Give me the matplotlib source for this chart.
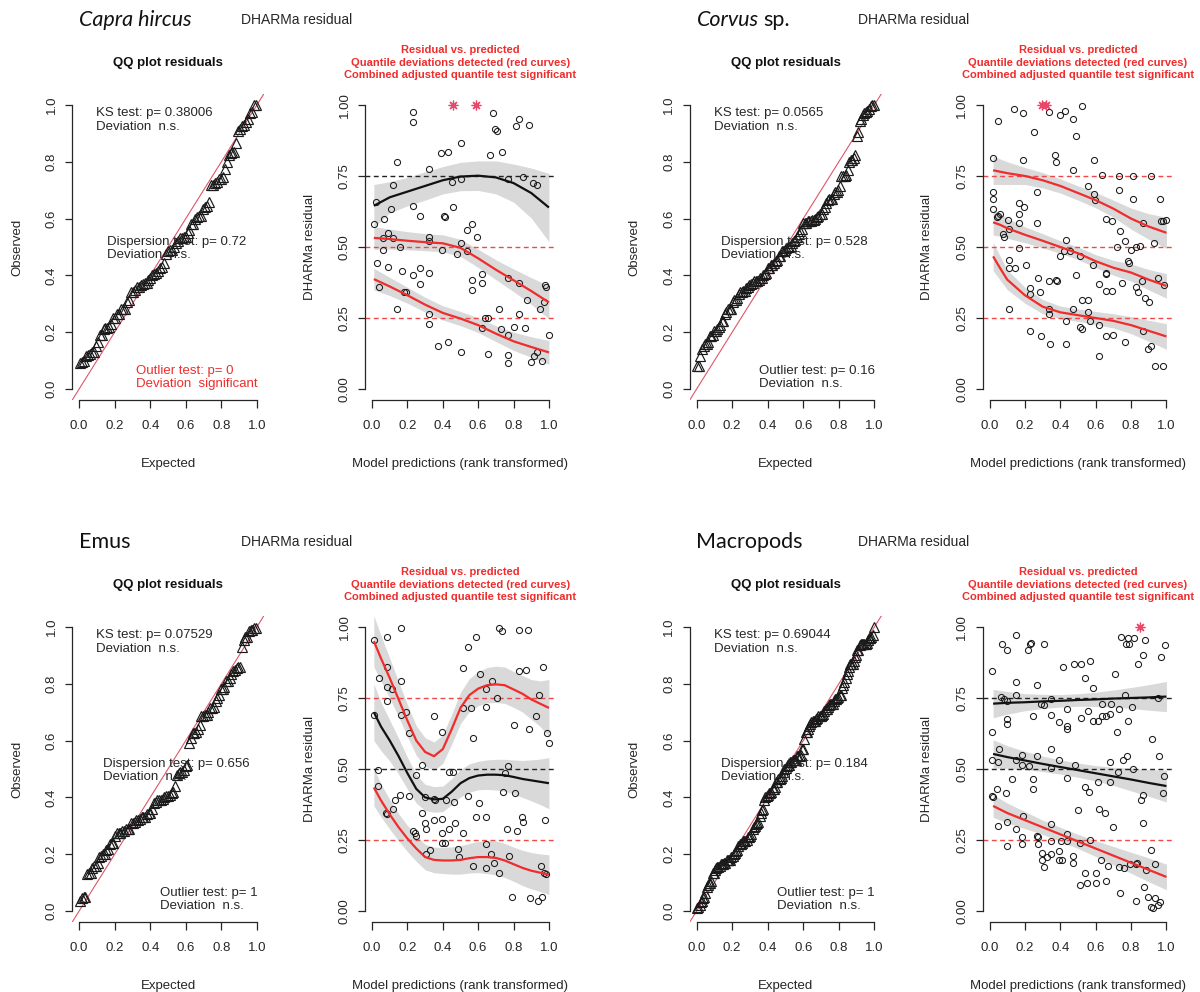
import numpy as np
import matplotlib
matplotlib.use("Agg")
import matplotlib.pyplot as plt

plt.rcParams['font.family'] = ['Liberation Sans', 'DejaVu Sans']

W, H = 1200, 992
fig = plt.figure(figsize=(W / 100, H / 100), dpi=100)
fig.patch.set_facecolor('white')

INK = '#262626'
RED = '#F02C2C'
STAR = '#E8486A'
BAND = '#D9D9D9'

# ---------------------------------------------------------------- data
species = ["Capra hircus", "Corvus sp.", "Emus", "Macropods"]
ks_p = ["0.38006", "0.0565", "0.07529", "0.69044"]
disp_p = ["0.72", "0.528", "0.656", "0.184"]
outlier_p = ["0", "0.16", "1", "1"]
outlier_sig = [True, False, False, False]
quantiles = [0.25, 0.5, 0.75]
# significance of each quantile curve (0.25, 0.5, 0.75)
quant_sig = [[True, True, False],
             [True, True, True],
             [True, False, True],
             [True, False, False]]

# (rank-transformed prediction, scaled residual)
capra_points = [
    (0.01, 0.58), (0.02, 0.66), (0.03, 0.445), (0.04, 0.36), (0.06, 0.53), (0.06, 0.49),
    (0.07, 0.60), (0.09, 0.55), (0.09, 0.43), (0.105, 0.635), (0.12, 0.72), (0.12, 0.53),
    (0.14, 0.80), (0.14, 0.28), (0.16, 0.50), (0.17, 0.415), (0.18, 0.34), (0.19, 0.34),
    (0.23, 0.975), (0.23, 0.94), (0.23, 0.645), (0.23, 0.40), (0.27, 0.61), (0.27, 0.425),
    (0.27, 0.37), (0.32, 0.775), (0.32, 0.535), (0.32, 0.52), (0.32, 0.41), (0.32, 0.265),
    (0.32, 0.23), (0.37, 0.15), (0.39, 0.83), (0.395, 0.49), (0.405, 0.61), (0.41, 0.605),
    (0.43, 0.835), (0.43, 0.165), (0.45, 0.73), (0.46, 0.64), (0.48, 0.475), (0.505, 0.865),
    (0.505, 0.74), (0.505, 0.515), (0.505, 0.13), (0.535, 0.485), (0.535, 0.56), (0.565, 0.58),
    (0.565, 0.385), (0.565, 0.35), (0.595, 0.535), (0.62, 0.405), (0.62, 0.375), (0.62, 0.215),
    (0.64, 0.25), (0.655, 0.25), (0.655, 0.125), (0.665, 0.825), (0.685, 0.97), (0.695, 0.915),
    (0.705, 0.91), (0.72, 0.28), (0.73, 0.21), (0.735, 0.835), (0.77, 0.74), (0.77, 0.39),
    (0.77, 0.19), (0.77, 0.12), (0.77, 0.09), (0.80, 0.22), (0.815, 0.925), (0.83, 0.95),
    (0.83, 0.375), (0.83, 0.265), (0.855, 0.745), (0.865, 0.215), (0.875, 0.315), (0.89, 0.93),
    (0.90, 0.095), (0.91, 0.725), (0.915, 0.115), (0.93, 0.72), (0.935, 0.13), (0.95, 0.28),
    (0.96, 0.10), (0.97, 0.305), (0.98, 0.365), (0.985, 0.36), (1.0, 0.19),
    (0.46, 1.0), (0.59, 1.0),
]

corvus_points = [
    (0.02, 0.815), (0.02, 0.695), (0.02, 0.67), (0.02, 0.635), (0.045, 0.945), (0.04, 0.605),
    (0.05, 0.61), (0.06, 0.615), (0.075, 0.545), (0.08, 0.535), (0.105, 0.595), (0.11, 0.565),
    (0.11, 0.455), (0.11, 0.425), (0.11, 0.28), (0.14, 0.985), (0.145, 0.425), (0.165, 0.655),
    (0.165, 0.615), (0.165, 0.585), (0.165, 0.495), (0.19, 0.97), (0.19, 0.805), (0.195, 0.64),
    (0.205, 0.435), (0.23, 0.355), (0.23, 0.335), (0.23, 0.205), (0.25, 0.905), (0.27, 0.695),
    (0.27, 0.585), (0.275, 0.39), (0.285, 0.34), (0.29, 0.185), (0.335, 0.975), (0.335, 0.38),
    (0.335, 0.28), (0.335, 0.265), (0.34, 0.16), (0.37, 0.825), (0.375, 0.80), (0.375, 0.385),
    (0.38, 0.38), (0.40, 0.965), (0.40, 0.47), (0.42, 0.485), (0.425, 0.98), (0.43, 0.525),
    (0.43, 0.24), (0.43, 0.16), (0.455, 0.485), (0.47, 0.95), (0.47, 0.77), (0.47, 0.28),
    (0.49, 0.89), (0.49, 0.40), (0.51, 0.47), (0.51, 0.22), (0.525, 0.995), (0.525, 0.315),
    (0.525, 0.21), (0.555, 0.715), (0.555, 0.315), (0.555, 0.27), (0.57, 0.24), (0.585, 0.435),
    (0.59, 0.805), (0.59, 0.685), (0.595, 0.665), (0.62, 0.37), (0.62, 0.225), (0.62, 0.115),
    (0.635, 0.755), (0.66, 0.60), (0.66, 0.41), (0.66, 0.405), (0.66, 0.345), (0.66, 0.185),
    (0.69, 0.59), (0.695, 0.345), (0.70, 0.19), (0.72, 0.50), (0.73, 0.75), (0.73, 0.70),
    (0.74, 0.555), (0.75, 0.375), (0.765, 0.52), (0.765, 0.165), (0.785, 0.45), (0.79, 0.445),
    (0.80, 0.49), (0.81, 0.75), (0.81, 0.67), (0.83, 0.50), (0.83, 0.36), (0.84, 0.34),
    (0.85, 0.505), (0.86, 0.38), (0.87, 0.585), (0.87, 0.205), (0.88, 0.32), (0.90, 0.305),
    (0.895, 0.14), (0.91, 0.75), (0.915, 0.15), (0.93, 0.515), (0.935, 0.08), (0.95, 0.39),
    (0.965, 0.67), (0.97, 0.59), (0.98, 0.59), (0.98, 0.08), (0.985, 0.365), (0.995, 0.595),
    (0.295, 1.0), (0.32, 1.0),
]

emus_points = [
    (0.01, 0.955), (0.01, 0.69), (0.035, 0.495), (0.035, 0.44), (0.04, 0.82), (0.085, 0.965),
    (0.085, 0.86), (0.085, 0.79), (0.085, 0.74), (0.08, 0.345), (0.085, 0.34), (0.115, 0.78),
    (0.12, 0.36), (0.13, 0.39), (0.16, 0.41), (0.165, 0.995), (0.165, 0.81), (0.165, 0.69),
    (0.19, 0.70), (0.21, 0.625), (0.21, 0.405), (0.25, 0.48), (0.23, 0.28), (0.245, 0.275),
    (0.25, 0.265), (0.28, 0.345), (0.285, 0.515), (0.30, 0.31), (0.30, 0.40), (0.305, 0.29),
    (0.305, 0.20), (0.33, 0.215), (0.35, 0.685), (0.35, 0.395), (0.35, 0.32), (0.355, 0.39),
    (0.395, 0.63), (0.395, 0.325), (0.395, 0.275), (0.395, 0.24), (0.415, 0.24), (0.42, 0.39),
    (0.435, 0.49), (0.435, 0.29), (0.46, 0.49), (0.465, 0.385), (0.47, 0.31), (0.485, 0.22),
    (0.49, 0.19), (0.515, 0.855), (0.515, 0.715), (0.515, 0.275), (0.545, 0.93), (0.545, 0.405),
    (0.56, 0.715), (0.57, 0.61), (0.57, 0.16), (0.59, 0.965), (0.59, 0.33), (0.605, 0.38),
    (0.61, 0.835), (0.645, 0.72), (0.645, 0.78), (0.645, 0.33), (0.645, 0.235), (0.645, 0.15),
    (0.67, 0.20), (0.68, 0.81), (0.69, 0.17), (0.705, 0.75), (0.715, 0.135), (0.72, 0.995),
    (0.735, 0.985), (0.74, 0.42), (0.75, 0.485), (0.765, 0.29), (0.775, 0.195), (0.77, 0.51),
    (0.80, 0.655), (0.81, 0.415), (0.82, 0.28), (0.83, 0.99), (0.83, 0.845), (0.845, 0.33),
    (0.855, 0.315), (0.87, 0.85), (0.88, 0.99), (0.885, 0.64), (0.925, 0.685), (0.945, 0.76),
    (0.955, 0.16), (0.97, 0.135), (0.965, 0.86), (0.975, 0.32), (0.99, 0.625), (1.0, 0.59),
    (0.985, 0.13), (0.79, 0.05), (0.895, 0.045), (0.94, 0.035), (0.96, 0.05),
]

macro_points = [
    (0.015, 0.845), (0.015, 0.63), (0.015, 0.53), (0.015, 0.405), (0.02, 0.40), (0.04, 0.43),
    (0.045, 0.525), (0.055, 0.57), (0.05, 0.30), (0.07, 0.94), (0.065, 0.755), (0.08, 0.745),
    (0.10, 0.92), (0.10, 0.74), (0.10, 0.675), (0.10, 0.66), (0.095, 0.415), (0.10, 0.315),
    (0.10, 0.23), (0.125, 0.465), (0.15, 0.97), (0.15, 0.805), (0.15, 0.76), (0.15, 0.53),
    (0.15, 0.29), (0.185, 0.55), (0.185, 0.515), (0.19, 0.335), (0.185, 0.26), (0.185, 0.235),
    (0.215, 0.92), (0.23, 0.94), (0.235, 0.945), (0.225, 0.51), (0.245, 0.465), (0.245, 0.43),
    (0.245, 0.685), (0.27, 0.795), (0.27, 0.545), (0.27, 0.265), (0.275, 0.235), (0.29, 0.73),
    (0.305, 0.725), (0.31, 0.94), (0.35, 0.745), (0.35, 0.57), (0.35, 0.505), (0.35, 0.305),
    (0.35, 0.245), (0.35, 0.20), (0.35, 0.69), (0.295, 0.205), (0.295, 0.18), (0.31, 0.155),
    (0.39, 0.665), (0.39, 0.53), (0.39, 0.21), (0.39, 0.18), (0.405, 0.245), (0.415, 0.86),
    (0.44, 0.71), (0.44, 0.65), (0.44, 0.64), (0.44, 0.47), (0.44, 0.27), (0.44, 0.245),
    (0.47, 0.195), (0.47, 0.17), (0.48, 0.87), (0.485, 0.515), (0.50, 0.355), (0.515, 0.87),
    (0.515, 0.68), (0.51, 0.24), (0.51, 0.09), (0.54, 0.82), (0.54, 0.435), (0.555, 0.705),
    (0.57, 0.88), (0.565, 0.42), (0.57, 0.25), (0.54, 0.135), (0.55, 0.10), (0.585, 0.785),
    (0.585, 0.67), (0.60, 0.10), (0.60, 0.135), (0.615, 0.67), (0.615, 0.455), (0.62, 0.36),
    (0.63, 0.18), (0.635, 0.73), (0.635, 0.685), (0.65, 0.345), (0.66, 0.685), (0.66, 0.105),
    (0.67, 0.16), (0.68, 0.525), (0.68, 0.455), (0.68, 0.695), (0.685, 0.73), (0.70, 0.295),
    (0.71, 0.835), (0.72, 0.63), (0.725, 0.49), (0.73, 0.71), (0.73, 0.155), (0.745, 0.965),
    (0.755, 0.53), (0.76, 0.15), (0.765, 0.76), (0.77, 0.94), (0.775, 0.545), (0.78, 0.67),
    (0.785, 0.96), (0.79, 0.94), (0.805, 0.72), (0.81, 0.50), (0.815, 0.96), (0.835, 0.17),
    (0.84, 0.87), (0.855, 0.39), (0.865, 0.90), (0.865, 0.41), (0.87, 0.31), (0.88, 0.955),
    (0.885, 0.145), (0.91, 0.215), (0.92, 0.605), (0.935, 0.165), (0.955, 0.75), (0.96, 0.545),
    (0.97, 0.895), (0.98, 0.415), (0.985, 0.475), (0.99, 0.935), (0.325, 0.19), (0.735, 0.065),
    (0.795, 0.165), (0.83, 0.035), (0.83, 0.165), (0.875, 0.085), (0.895, 0.05), (0.915, 0.015),
    (0.925, 0.012), (0.935, 0.047), (0.95, 0.02), (0.965, 0.033), (0.275, 0.26), (0.41, 0.18),
    (0.85, 1.0),
]

# quantile regression curves: grid, fitted value and half-width of the band
capra_grid = [0.01, 0.1, 0.2, 0.3, 0.4, 0.5, 0.6, 0.7, 0.8, 0.9, 1.0]
capra_q25 = [0.387, 0.361, 0.33, 0.297, 0.268, 0.248, 0.225, 0.195, 0.168, 0.148, 0.129]
capra_q25_hw = [0.038, 0.032, 0.028, 0.026, 0.025, 0.025, 0.026, 0.028, 0.032, 0.036, 0.042]
capra_q50 = [0.532, 0.528, 0.522, 0.517, 0.513, 0.497, 0.46, 0.42, 0.383, 0.345, 0.305]
capra_q50_hw = [0.04, 0.035, 0.032, 0.03, 0.03, 0.03, 0.032, 0.035, 0.04, 0.047, 0.058]
capra_q75 = [0.645, 0.675, 0.695, 0.715, 0.735, 0.748, 0.751, 0.745, 0.725, 0.69, 0.639]
capra_q75_hw = [0.075, 0.055, 0.05, 0.05, 0.048, 0.05, 0.052, 0.058, 0.067, 0.088, 0.12]

corvus_grid = [0.02, 0.06, 0.1, 0.2, 0.3, 0.4, 0.5, 0.6, 0.7, 0.8, 0.9, 1.0]
corvus_q25 = [0.467, 0.425, 0.385, 0.33, 0.29, 0.27, 0.26, 0.25, 0.24, 0.225, 0.205, 0.185]
corvus_q25_hw = [0.05, 0.042, 0.035, 0.028, 0.025, 0.022, 0.022, 0.023, 0.025, 0.03, 0.037, 0.045]
corvus_q50 = [0.587, 0.578, 0.566, 0.543, 0.522, 0.50, 0.478, 0.45, 0.427, 0.41, 0.385, 0.363]
corvus_q50_hw = [0.045, 0.04, 0.035, 0.028, 0.025, 0.022, 0.022, 0.023, 0.026, 0.03, 0.036, 0.043]
corvus_q75 = [0.77, 0.765, 0.76, 0.75, 0.735, 0.715, 0.69, 0.665, 0.635, 0.60, 0.572, 0.55]
corvus_q75_hw = [0.05, 0.045, 0.04, 0.03, 0.027, 0.025, 0.025, 0.027, 0.03, 0.037, 0.045, 0.055]

emus_grid = [0.01, 0.05, 0.1, 0.15, 0.2, 0.25, 0.3, 0.35, 0.4, 0.45, 0.5,
             0.55, 0.6, 0.65, 0.7, 0.75, 0.8, 0.85, 0.9, 0.95, 1.0]
emus_q25 = [0.435, 0.39, 0.34, 0.295, 0.255, 0.22, 0.19, 0.18, 0.178, 0.178, 0.18,
            0.186, 0.19, 0.19, 0.187, 0.178, 0.165, 0.152, 0.142, 0.135, 0.128]
emus_q25_hw = [0.065, 0.058, 0.052, 0.048, 0.046, 0.045, 0.045, 0.045, 0.046, 0.048, 0.05,
               0.052, 0.055, 0.058, 0.06, 0.06, 0.06, 0.062, 0.064, 0.066, 0.07]
emus_q50 = [0.70, 0.65, 0.60, 0.545, 0.485, 0.43, 0.40, 0.393, 0.395, 0.42, 0.45,
            0.468, 0.477, 0.48, 0.48, 0.478, 0.472, 0.465, 0.46, 0.455, 0.45]
emus_q50_hw = [0.1, 0.085, 0.072, 0.063, 0.056, 0.05, 0.046, 0.045, 0.045, 0.046, 0.048,
               0.05, 0.05, 0.052, 0.054, 0.056, 0.06, 0.065, 0.072, 0.08, 0.09]
emus_q75 = [0.95, 0.89, 0.82, 0.745, 0.67, 0.60, 0.56, 0.545, 0.57, 0.64, 0.715,
            0.76, 0.783, 0.795, 0.798, 0.795, 0.78, 0.765, 0.745, 0.73, 0.715]
emus_q75_hw = [0.09, 0.08, 0.07, 0.062, 0.056, 0.052, 0.05, 0.05, 0.05, 0.052, 0.055,
               0.058, 0.06, 0.062, 0.064, 0.064, 0.063, 0.064, 0.07, 0.08, 0.1]

macro_grid = [0.02, 0.1, 0.2, 0.3, 0.4, 0.5, 0.6, 0.7, 0.8, 0.9, 1.0]
macro_q25 = [0.37, 0.345, 0.32, 0.295, 0.27, 0.245, 0.22, 0.195, 0.17, 0.145, 0.12]
macro_q25_hw = [0.04, 0.035, 0.03, 0.025, 0.025, 0.025, 0.028, 0.032, 0.037, 0.042, 0.045]
macro_q50 = [0.553, 0.542, 0.53, 0.518, 0.507, 0.496, 0.485, 0.474, 0.463, 0.451, 0.44]
macro_q50_hw = [0.05, 0.04, 0.032, 0.027, 0.025, 0.025, 0.027, 0.032, 0.04, 0.047, 0.056]
macro_q75 = [0.73, 0.733, 0.735, 0.738, 0.74, 0.743, 0.745, 0.748, 0.75, 0.752, 0.755]
macro_q75_hw = [0.05, 0.04, 0.03, 0.025, 0.022, 0.022, 0.025, 0.03, 0.037, 0.045, 0.053]

qq_ticks = [0.0, 0.2, 0.4, 0.6, 0.8, 1.0]
qq_labels = ["0.0", "0.2", "0.4", "0.6", "0.8", "1.0"]
res_yticks = [0.0, 0.25, 0.5, 0.75, 1.0]
res_ylabels = ["0.00", "0.25", "0.50", "0.75", "1.00"]

# ---------------------------------------------------------------- layout (pixels)
block_offsets = [(0, 0), (617.5, 0), (0, 522), (617.5, 522)]
PLOT_TOP, PLOT_BOTTOM = 93.6, 400.4
QQ_LR = (72.0, 264.0)
RES_LR = (365.0, 556.0)
XLAB_Y = 464
TXT = 9.5


def fx(px):
    return px / W


def fy(py):
    return 1 - py / H


def r_axes(left, right, top, bottom):
    ax = fig.add_axes([fx(left), fy(bottom), (right - left) / W, (bottom - top) / H])
    ax.set_xlim(-0.04, 1.04)
    ax.set_ylim(-0.04, 1.04)
    ax.patch.set_alpha(0)
    for s in ('top', 'right'):
        ax.spines[s].set_visible(False)
    for s in ('left', 'bottom'):
        ax.spines[s].set_bounds(0, 1)
        ax.spines[s].set_linewidth(0.9)
        ax.spines[s].set_color(INK)
    ax.tick_params(length=5.4, width=0.9, color=INK, labelcolor=INK,
                   labelsize=TXT)
    ax.tick_params(axis='x', pad=8.5)
    ax.tick_params(axis='y', pad=5.0)
    return ax


def ftext(x, y, s, **kw):
    kw.setdefault('fontsize', TXT)
    kw.setdefault('color', INK)
    return fig.text(fx(x), fy(y), s, **kw)


def draw_block(i, points, grid, curves):
    dx, dy = block_offsets[i]
    top, bottom = PLOT_TOP + dy, PLOT_BOTTOM + dy
    pts = np.array(points)
    pred, resid = pts[:, 0], pts[:, 1]

    # ---- header
    name = species[i]
    head = dict(fontsize=15.5, va='center', family=['Lato', 'DejaVu Sans'], color='#111111')
    if name.endswith(" sp."):
        t = ftext(79 + dx, 20 + dy, name[:-4], style='italic', **head)
        fig.canvas.draw()
        bb = t.get_window_extent()
        ftext(bb.x1 + 5, 20 + dy, "sp.", **head)
    else:
        ftext(79 + dx, 20 + dy, name, style='italic' if i == 0 else 'normal', **head)
    ftext(241 + dx, 20 + dy, "DHARMa residual", fontsize=10, va='center')

    # ---- QQ plot
    ax = r_axes(QQ_LR[0] + dx, QQ_LR[1] + dx, top, bottom)
    ax.set_xticks(qq_ticks, qq_labels)
    ax.set_yticks(qq_ticks, qq_labels, rotation=90, va='center')
    obs = np.sort(resid)
    n = len(obs)
    expected = (np.arange(1, n + 1) - 0.5) / n
    ax.axline((0, 0), slope=1, color='#E0556A', lw=0.8, zorder=1)
    ax.plot(expected, obs, linestyle='none', marker='^', ms=6.5, mfc='none',
            mec='#1a1a1a', mew=0.85, zorder=2)
    ftext(168 + dx, 63 + dy, "QQ plot residuals", ha='center', va='center',
          fontweight='bold', color='#111111')
    ftext(17 + dx, (top + bottom) / 2, "Observed", rotation=90,
          ha='center', va='center')
    ftext(168 + dx, XLAB_Y + dy, "Expected", ha='center', va='center')

    ftext(96 + dx, 120 + dy, f"KS test: p= {ks_p[i]}\nDeviation  n.s.",
          ha='left', va='center', linespacing=1.15)
    ftext(176.5 + dx, 248.5 + dy, f"Dispersion test: p= {disp_p[i]}\nDeviation  n.s.",
          ha='center', va='center', multialignment='left', linespacing=1.15)
    sig = outlier_sig[i]
    ftext(257.5 + dx, 377.5 + dy,
          f"Outlier test: p= {outlier_p[i]}\nDeviation  " + ("significant" if sig else "n.s."),
          ha='right', va='center', multialignment='left', linespacing=1.15,
          color=RED if sig else INK)

    # ---- residual vs predicted
    ax = r_axes(RES_LR[0] + dx, RES_LR[1] + dx, top, bottom)
    ax.set_xticks(qq_ticks, qq_labels)
    ax.set_yticks(res_yticks, res_ylabels, rotation=90, va='center')
    g = np.array(grid)
    for (mid, hw), q, s in zip(curves, quantiles, quant_sig[i]):
        mid = np.array(mid)
        hw = np.array(hw)
        col = RED if s else '#111111'
        ax.axhline(q, color='#F04848' if s else '#222222', lw=1.0,
                   ls=(0, (3.5, 2.5)), zorder=1)
        ax.fill_between(g, mid - hw, mid + hw, color=BAND, lw=0, zorder=0.5)
        ax.plot(g, mid, color=col, lw=1.6, zorder=4, solid_capstyle='butt')
    out = (resid >= 1.0) | (resid <= 0.0)
    ax.plot(pred[~out], resid[~out], linestyle='none', marker='o', ms=4.4,
            mfc='none', mec='#1a1a1a', mew=0.75, zorder=3)
    ax.plot(pred[out], resid[out], linestyle='none', marker=(8, 2, 0), ms=7,
            mec=STAR, mew=0.9, zorder=3)

    cx = (RES_LR[0] + RES_LR[1]) / 2 + dx
    for k, line in enumerate(["Residual vs. predicted",
                              "Quantile deviations detected (red curves)",
                              "Combined adjusted quantile test significant"]):
        ftext(cx, 50 + 12.6 * k + dy, line, ha='center', va='center',
              fontsize=8, fontweight='bold', color=RED)
    ftext(310 + dx, (top + bottom) / 2, "DHARMa residual", rotation=90,
          ha='center', va='center')
    ftext(cx, XLAB_Y + dy, "Model predictions (rank transformed)",
          ha='center', va='center')


draw_block(0, capra_points, capra_grid,
           [(capra_q25, capra_q25_hw), (capra_q50, capra_q50_hw), (capra_q75, capra_q75_hw)])
draw_block(1, corvus_points, corvus_grid,
           [(corvus_q25, corvus_q25_hw), (corvus_q50, corvus_q50_hw), (corvus_q75, corvus_q75_hw)])
draw_block(2, emus_points, emus_grid,
           [(emus_q25, emus_q25_hw), (emus_q50, emus_q50_hw), (emus_q75, emus_q75_hw)])
draw_block(3, macro_points, macro_grid,
           [(macro_q25, macro_q25_hw), (macro_q50, macro_q50_hw), (macro_q75, macro_q75_hw)])

fig.savefig("out.png", dpi=100, facecolor='white')
